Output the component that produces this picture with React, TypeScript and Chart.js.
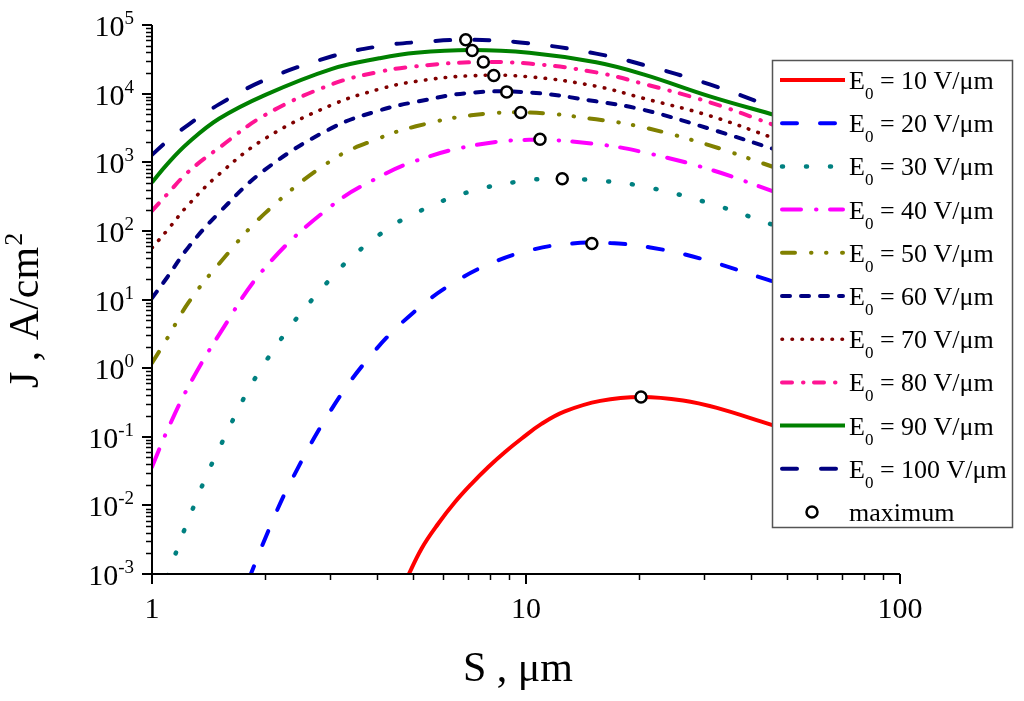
import React, { useEffect, useRef } from 'react';
import { Chart, registerables } from 'chart.js';

Chart.register(...registerables);

// ---- data ----
const S_GRID = [1, 1.1, 1.25, 1.51, 2.01, 3.03, 4.05, 5.08, 7.13, 10.2, 15.4, 20.6, 31, 46.6];
const S_30 = [1.1, 1.25, 1.51, 2.01, 3.03, 4.05, 5.08, 7.13, 10.2, 12.3, 15.4, 20.6, 31, 46.6];
const S_20 = [1.81, 2.06, 2.34, 3.03, 3.9, 5.02, 6.38, 8.11, 10.4, 13.3, 16.8, 21.5, 29.2, 44.4, 47.8];
const S_10 = [4.75, 5.26, 5.83, 6.46, 7.16, 7.93, 8.79, 9.74, 11.0, 12.7, 15.8, 20.3, 26.3, 32.4, 45.4, 47.8];

const J_10 = [0.000764, 0.00236, 0.00545, 0.0112, 0.0208, 0.0363, 0.06, 0.0944, 0.154, 0.234, 0.333, 0.38, 0.338, 0.263, 0.149, 0.139];
const J_20 = [0.000812, 0.00462, 0.0212, 0.259, 1.67, 6.59, 17.3, 34.2, 53.2, 65.5, 66.4, 57.4, 39.7, 19.3, 17.2];
const J_30 = [0.00093, 0.00612, 0.0664, 1.23, 21.3, 87.5, 183, 377, 548, 570, 545, 445, 252, 118];
const J_40 = [0.0363, 0.1256, 0.532, 3.05, 29.4, 235, 612, 1050, 1730, 2120, 1840, 1400, 787, 364];
const J_50 = [1.19, 2.75, 8.92, 33.0, 183, 1080, 2240, 3340, 4830, 5300, 4220, 3230, 1760, 828];
const J_60 = [10.5, 21.3, 57.4, 183, 787, 3170, 5670, 7590, 10300, 10400, 7720, 5810, 3070, 1520];
const J_70 = [56.5, 103, 239, 667, 2230, 6870, 11600, 15100, 18200, 17600, 12800, 8540, 4750, 2190];
const J_80 = [196, 346, 724, 1620, 4910, 13700, 20800, 25000, 28600, 27400, 20400, 13900, 7470, 3400];
const J_90 = [509, 948, 1920, 4300, 9610, 23000, 32700, 39400, 43100, 39400, 28600, 19100, 9140, 4830];
const J_100 = [1280, 2050, 3510, 6970, 15900, 35000, 49000, 56000, 60800, 54100, 38300, 26300, 13600, 6110];

const MAX_S = [20.3, 15.0, 12.5, 10.9, 9.68, 8.88, 8.2, 7.69, 7.18, 6.9];
const MAX_J = [0.38, 65.3, 573, 2170, 5300, 10600, 18400, 28800, 42500, 61000];

const E0_VALUES = [10, 20, 30, 40, 50, 60, 70, 80, 90, 100];
const Y_TICK_EXPONENTS = [-3, -2, -1, 0, 1, 2, 3, 4, 5];
const X_TICKS = [1, 10, 100];

// ---- styles ----
const FONT = '"Liberation Serif", "Times New Roman", serif';

const SERIES = [
  { e: 10, S: S_10, J: J_10, color: '#FF0000', dash: [] as number[], width: 4 },
  { e: 20, S: S_20, J: J_20, color: '#0000FF', dash: [15, 23], width: 4 },
  { e: 30, S: S_30, J: J_30, color: '#008080', dash: [1, 23], width: 4.5 },
  { e: 40, S: S_GRID, J: J_40, color: '#FF00FF', dash: [19, 15, 0.5, 13.5], width: 4 },
  { e: 50, S: S_GRID, J: J_50, color: '#808000', dash: [13, 16, 0.5, 14.5, 0.5, 15.5], width: 4 },
  { e: 60, S: S_GRID, J: J_60, color: '#000080', dash: [8, 11], width: 4 },
  { e: 70, S: S_GRID, J: J_70, color: '#800000', dash: [0.5, 9.5], width: 3.6 },
  { e: 80, S: S_GRID, J: J_80, color: '#FF1493', dash: [10, 11, 0.5, 10.5], width: 4 },
  { e: 90, S: S_GRID, J: J_90, color: '#008000', dash: [] as number[], width: 4 },
  { e: 100, S: S_GRID, J: J_100, color: '#000080', dash: [15, 24], width: 4 },
];

const axesPlugin = {
  id: 'paperAxes',
  afterDatasetsDraw(chart: any) {
    const ctx: CanvasRenderingContext2D = chart.ctx;
    const xs = chart.scales.x;
    const ys = chart.scales.y;
    const a = chart.chartArea;
    ctx.save();
    ctx.strokeStyle = '#000';
    ctx.fillStyle = '#000';
    ctx.lineCap = 'butt';
    ctx.setLineDash([]);
    ctx.lineWidth = 2;
    ctx.beginPath();
    ctx.moveTo(a.left, a.top);
    ctx.lineTo(a.left, a.bottom);
    ctx.lineTo(a.right, a.bottom);
    ctx.stroke();

    for (let i = 0; i < Y_TICK_EXPONENTS.length; i++) {
      const e = Y_TICK_EXPONENTS[i];
      const y = Math.round(ys.getPixelForValue(Math.pow(10, e)));
      ctx.lineWidth = 2;
      ctx.beginPath();
      ctx.moveTo(a.left - 10, y);
      ctx.lineTo(a.left, y);
      ctx.stroke();
      if (i < Y_TICK_EXPONENTS.length - 1) {
        ctx.lineWidth = 1.5;
        for (let m = 2; m <= 9; m++) {
          const ym = Math.round(ys.getPixelForValue(m * Math.pow(10, e))) + 0.5;
          ctx.beginPath();
          ctx.moveTo(a.left - 6, ym);
          ctx.lineTo(a.left, ym);
          ctx.stroke();
        }
      }
      const exp = String(e);
      ctx.font = `19px ${FONT}`;
      const wExp = ctx.measureText(exp).width;
      ctx.font = `30px ${FONT}`;
      const w10 = ctx.measureText('10').width;
      const right = 134;
      ctx.textAlign = 'left';
      ctx.textBaseline = 'alphabetic';
      ctx.fillText('10', right - wExp - w10, y + 11);
      ctx.font = `19px ${FONT}`;
      ctx.fillText(exp, right - wExp, y - 1);
    }

    for (let i = 0; i < X_TICKS.length; i++) {
      const v = X_TICKS[i];
      const x = Math.round(xs.getPixelForValue(v));
      ctx.lineWidth = 2;
      ctx.beginPath();
      ctx.moveTo(x, a.bottom);
      ctx.lineTo(x, a.bottom + 10);
      ctx.stroke();
      if (i < X_TICKS.length - 1) {
        ctx.lineWidth = 1.5;
        for (let m = 2; m <= 9; m++) {
          const xm = Math.round(xs.getPixelForValue(m * v)) + 0.5;
          ctx.beginPath();
          ctx.moveTo(xm, a.bottom);
          ctx.lineTo(xm, a.bottom + 6);
          ctx.stroke();
        }
      }
      ctx.font = `30px ${FONT}`;
      ctx.textAlign = 'center';
      ctx.textBaseline = 'alphabetic';
      ctx.fillText(String(v), x, a.bottom + 44);
    }

    ctx.font = `42px ${FONT}`;
    ctx.textAlign = 'center';
    ctx.fillText('S , \u03bcm', 518, 681);

    ctx.save();
    ctx.translate(38, 388);
    ctx.rotate(-Math.PI / 2);
    ctx.textAlign = 'left';
    ctx.font = `42px ${FONT}`;
    const main = 'J , A/cm';
    ctx.fillText(main, 0, 0);
    const wm = ctx.measureText(main).width;
    ctx.font = `26px ${FONT}`;
    ctx.fillText('2', wm + 1, -16);
    ctx.restore();

    ctx.restore();
  },
};

const legendPlugin = {
  id: 'paperLegend',
  afterDraw(chart: any) {
    const ctx: CanvasRenderingContext2D = chart.ctx;
    ctx.save();
    const bx = 772, by = 60, bw = 241, bh = 468;
    ctx.fillStyle = '#fff';
    ctx.fillRect(bx, by, bw, bh);
    ctx.strokeStyle = '#555';
    ctx.lineWidth = 1.5;
    ctx.setLineDash([]);
    ctx.strokeRect(bx + 0.5, by + 0.5, bw - 1, bh - 1);

    const rowY0 = 80;
    const step = 43.2;
    for (let i = 0; i < SERIES.length; i++) {
      const s = SERIES[i];
      const cy = rowY0 + i * step;
      ctx.strokeStyle = s.color;
      ctx.lineWidth = s.width;
      ctx.lineCap = s.dash.length ? 'round' : 'butt';
      ctx.setLineDash(s.dash);
      ctx.beginPath();
      ctx.moveTo(s.dash.length ? 782 : 780, cy);
      ctx.lineTo(s.dash.length ? 843 : 845, cy);
      ctx.stroke();
      ctx.setLineDash([]);

      ctx.fillStyle = '#000';
      ctx.textAlign = 'left';
      ctx.textBaseline = 'alphabetic';
      const tx = 849;
      const base = cy + 9;
      ctx.font = `26px ${FONT}`;
      ctx.fillText('E', tx, base);
      const wE = ctx.measureText('E').width;
      ctx.font = `17px ${FONT}`;
      ctx.fillText('0', tx + wE, base + 10);
      const w0 = ctx.measureText('0').width;
      ctx.font = `26px ${FONT}`;
      ctx.fillText(` = ${E0_VALUES[i]} V/\u03bcm`, tx + wE + w0, base);
    }
    const cyM = rowY0 + SERIES.length * step;
    ctx.beginPath();
    ctx.arc(812, cyM, 5.5, 0, Math.PI * 2);
    ctx.fillStyle = '#fff';
    ctx.fill();
    ctx.strokeStyle = '#000';
    ctx.lineWidth = 2.5;
    ctx.stroke();
    ctx.fillStyle = '#000';
    ctx.font = `26px ${FONT}`;
    ctx.fillText('maximum', 849, cyM + 9);
    ctx.restore();
  },
};

export default function App() {
  const canvasRef = useRef<HTMLCanvasElement | null>(null);

  useEffect(() => {
    const canvas = canvasRef.current;
    if (!canvas) return;

    const datasets: any[] = SERIES.map((s) => ({
      label: `E0 = ${s.e} V/\u03bcm`,
      data: s.S.map((x, i) => ({ x, y: s.J[i] })),
      borderColor: s.color,
      backgroundColor: s.color,
      borderWidth: s.width,
      borderDash: s.dash,
      borderCapStyle: s.dash.length ? 'round' : 'butt',
      borderJoinStyle: 'round',
      pointRadius: 0,
      pointHoverRadius: 0,
      tension: 0.4,
      fill: false,
      order: 1,
    }));
    datasets.push({
      label: 'maximum',
      data: MAX_S.map((x, i) => ({ x, y: MAX_J[i] })),
      showLine: false,
      pointRadius: 5.5,
      pointBorderWidth: 2.5,
      pointBorderColor: '#000',
      pointBackgroundColor: '#fff',
      borderColor: '#000',
      backgroundColor: '#fff',
      order: 0,
    });

    const chart = new Chart(canvas, {
      type: 'line',
      data: { datasets },
      options: {
        animation: false,
        responsive: false,
        devicePixelRatio: 1,
        layout: { padding: { top: 25, right: 124, bottom: 0, left: 0 } },
        plugins: {
          legend: { display: false },
          title: { display: false },
          tooltip: { enabled: false },
        },
        events: [],
        scales: {
          x: {
            type: 'logarithmic',
            min: 1,
            max: 100,
            grid: { display: false },
            border: { display: false },
            ticks: { display: false },
            afterFit: (scale: any) => {
              scale.height = 127;
            },
          },
          y: {
            type: 'logarithmic',
            min: 1e-3,
            max: 1e5,
            grid: { display: false },
            border: { display: false },
            ticks: { display: false },
            afterFit: (scale: any) => {
              scale.width = 152;
            },
          },
        },
      } as any,
      plugins: [axesPlugin, legendPlugin],
    });

    return () => {
      chart.destroy();
    };
  }, []);

  return (
    <div style={{ position: 'absolute', left: 0, top: 0, width: 1024, height: 701, background: '#fff' }}>
      <canvas
        ref={canvasRef}
        width={1024}
        height={701}
        style={{ display: 'block', width: 1024, height: 701 }}
      />
    </div>
  );
}
